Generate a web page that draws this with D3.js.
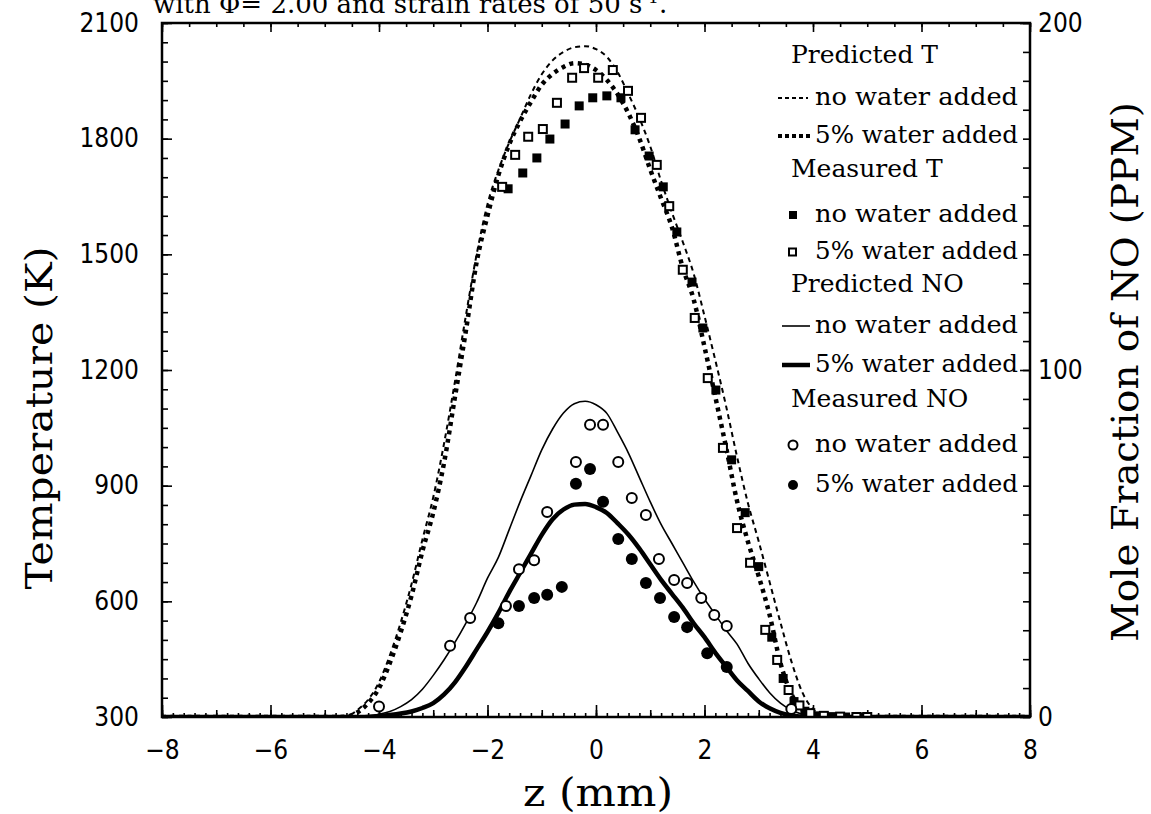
<!DOCTYPE html>
<meta charset="utf-8">
<style>
    body { margin: 0; background: #fff; }
    text { fill: #000; }
    .axis path { display: none; }
    .axis line { stroke: #000; stroke-width: 1.6; }
    .axis text {
        font-family: "Liberation Sans Narrow", "DejaVu Sans Condensed", "Liberation Sans", sans-serif;
        font-size: 26px;
    }
    .title, .label { font-family: "DejaVu Serif", serif; }
    .legend text { font-family: "DejaVu Serif", serif; font-size: 25px; }
</style>
<svg width="1151" height="814"></svg>
<script src="https://cdn.jsdelivr.net/npm/d3@7/dist/d3.min.js"></script>
<script>

    // predicted temperature profiles (K) along z (mm)
    var predTZ = [-8, -4.8, -4.6, -4.4, -4.2, -4.0, -3.8, -3.6, -3.4, -3.2, -3.0, -2.8, -2.6, -2.4, -2.2, -2.0, -1.8, -1.6, -1.4, -1.2,
        -1.0, -0.8, -0.6, -0.4, -0.2, 0, 0.2, 0.4, 0.6, 0.8, 1.0, 1.2, 1.4, 1.6, 1.8, 2.0, 2.2, 2.4, 2.6, 2.8,
        3.0, 3.2, 3.4, 3.6, 3.8, 4.0, 4.2, 4.4, 8];
    var predTNoWater = [300, 300, 302, 318, 345, 390, 460, 545, 645, 760, 870, 1010, 1170, 1340, 1500, 1630, 1718, 1790, 1852, 1915,
        1967, 2003, 2025, 2037, 2040, 2032, 2012, 1972, 1915, 1853, 1780, 1690, 1608, 1532, 1450, 1340, 1225, 1105, 975, 855,
        755, 650, 545, 445, 365, 320, 303, 300, 300];
    var predTWater = [300, 300, 301, 312, 336, 375, 440, 520, 615, 730, 830, 960, 1130, 1300, 1480, 1600, 1705, 1785, 1845, 1895,
        1940, 1968, 1986, 1996, 1992, 1978, 1952, 1915, 1865, 1800, 1720, 1645, 1570, 1465, 1383, 1260, 1130, 998, 860, 755,
        665, 565, 440, 360, 320, 303, 300, 300, 300];

    // measured temperature (K)
    var measTNoWaterZ = [-1.62, -1.35, -1.09, -0.85, -0.57, -0.31, -0.06, 0.2, 0.46, 0.72, 0.98, 1.24, 1.49, 1.77, 1.97, 2.21, 2.5, 2.75,
        3.0, 3.24, 3.45, 3.65, 3.85, 4.05, 4.35, 4.6, 4.9];
    var measTNoWater = [1670, 1711, 1750, 1799, 1838, 1885, 1906, 1911, 1906, 1823, 1755, 1675, 1558, 1428, 1309, 1148, 967, 830,
        690, 507, 400, 340, 315, 303, 301, 300, 300];
    var measTWaterZ = [-1.73, -1.49, -1.25, -0.98, -0.72, -0.44, -0.22, 0.04, 0.31, 0.59, 0.83, 1.12, 1.35, 1.6, 1.82, 2.06, 2.34, 2.6,
        2.84, 3.12, 3.34, 3.55, 3.75, 3.95, 4.2, 4.5, 4.8, 5.0];
    var measTWater = [1675, 1758, 1805, 1825, 1893, 1958, 1983, 1958, 1978, 1924, 1854, 1732, 1625, 1460, 1335, 1179, 998, 790,
        700, 526, 448, 370, 330, 310, 303, 301, 300, 300];

    // predicted NO (ppm)
    var predNOZ = [-8, -4.4, -4.2, -4.0, -3.8, -3.6, -3.4, -3.2, -3.0, -2.8, -2.6, -2.4, -2.2, -2.0, -1.8, -1.6, -1.4, -1.2, -1.0, -0.8,
        -0.6, -0.4, -0.2, 0, 0.2, 0.4, 0.6, 0.8, 1.0, 1.2, 1.4, 1.6, 1.8, 2.0, 2.2, 2.4, 2.6, 2.8, 3.0, 3.2,
        3.4, 3.6, 3.8, 4.0, 4.2, 8];
    var predNONoWater = [0, 0, 0.3, 0.8, 1.6, 3, 5, 8, 12, 16.5, 21.5, 27, 33, 40, 46, 54, 62, 69.5, 77, 83,
        87.6, 90.3, 91, 90, 87.5, 82, 76, 69, 62, 55.5, 50, 44.5, 39, 34, 29.5, 25, 21, 15.5, 11, 7,
        4, 2, 0.8, 0.2, 0, 0];
    var predNOWater = [0, 0, 0.1, 0.3, 0.6, 1, 1.6, 2.6, 4, 6.5, 10, 14.5, 19.5, 24.5, 30, 36, 41.5, 47, 52.5, 57,
        59.8, 61.2, 61.4, 60.5, 58.8, 55.8, 52.5, 48.5, 44, 39.5, 35.5, 31.5, 27, 23, 18.5, 14.5, 10.5, 7.5, 4.5, 2.5,
        1.2, 0.5, 0.1, 0, 0, 0];

    // measured NO (ppm)
    var measNONoWaterZ = [-4.0, -2.69, -2.32, -1.66, -1.42, -1.14, -0.9, -0.37, -0.11, 0.13, 0.41, 0.66, 0.92, 1.16, 1.44, 1.68,
        1.94, 2.18, 2.41, 3.6];
    var measNONoWater = [3, 20.5, 28.5, 32, 42.6, 45.2, 59.1, 73.5, 84.2, 84.2, 73.5, 63.1, 58.2, 45.5, 39.5, 38.6,
        34.3, 29.4, 26.2, 2.3];
    var measNOWaterZ = [-1.8, -1.42, -1.14, -0.9, -0.63, -0.37, -0.11, 0.13, 0.41, 0.66, 0.92, 1.18, 1.44, 1.68, 2.05, 2.41];
    var measNOWater = [27, 32, 34.3, 35.2, 37.5, 67.2, 71.5, 62, 51.3, 45.5, 38.6, 34.3, 28.8, 25.9, 18.4, 14.4];

    var xTicks = [-8, -6, -4, -2, 0, 2, 4, 6, 8];
    var tTicks = [300, 600, 900, 1200, 1500, 1800, 2100];
    var noTicks = [0, 100, 200];

    var legendRows = [
        {label: "Predicted T", kind: "header"},
        {label: "no water added", kind: "dash"},
        {label: "5% water added", kind: "dots"},
        {label: "Measured T", kind: "header"},
        {label: "no water added", kind: "fsquare"},
        {label: "5% water added", kind: "osquare"},
        {label: "Predicted NO", kind: "header"},
        {label: "no water added", kind: "thin"},
        {label: "5% water added", kind: "thick"},
        {label: "Measured NO", kind: "header"},
        {label: "no water added", kind: "ocircle"},
        {label: "5% water added", kind: "fcircle"}
    ];
    var legendBaselines = [63, 105, 143, 177, 222, 259, 292, 333, 372, 407, 452, 492];

    var svg = d3.select("svg"),
        plotL = 162, plotR = 1030, plotT = 23, plotB = 717;

    svg.append("rect").attr("width", 1151).attr("height", 814).attr("fill", "#fff");

    var x = d3.scaleLinear().domain([-8, 8]).range([plotL, plotR]);
    var yT = d3.scaleLinear().domain([300, 2100]).range([plotB, plotT]);
    var yNO = d3.scaleLinear().domain([0, 200]).range([plotB, plotT]);

    function zip(zs, vs) { return zs.map(function(z, i) { return {z: z, v: vs[i]}; }); }

    // minor ticks
    svg.append("g").attr("class", "axis").attr("transform", "translate(" + plotL + ",0)")
        .call(d3.axisLeft(yT).tickValues(d3.range(300, 2101, 50)).tickSize(-6).tickFormat(""));
    svg.append("g").attr("class", "axis").attr("transform", "translate(" + plotR + ",0)")
        .call(d3.axisRight(yNO).tickValues(d3.range(0, 25).map(function(i) { return i * 200 / 24; })).tickSize(-7).tickFormat(""));
    svg.append("g").attr("class", "axis").attr("transform", "translate(0," + plotB + ")")
        .call(d3.axisBottom(x).tickValues(d3.range(-40, 41).map(function(i) { return i / 5; })).tickSize(-4).tickFormat(""));
    svg.append("g").attr("class", "axis").attr("transform", "translate(0," + plotB + ")")
        .call(d3.axisBottom(x).tickValues(d3.range(-8, 9)).tickSize(-7).tickFormat(""));
    svg.append("g").attr("class", "axis").attr("transform", "translate(0," + plotT + ")")
        .call(d3.axisTop(x).tickValues(d3.range(-16, 17).map(function(i) { return i / 2; })).tickSize(-4).tickFormat(""));

    // major ticks + labels
    svg.append("g").attr("class", "axis").attr("transform", "translate(" + plotL + ",0)")
        .call(d3.axisLeft(yT).tickValues(tTicks).tickSize(-10).tickPadding(23).tickFormat(d3.format("d")));
    svg.append("g").attr("class", "axis").attr("transform", "translate(" + plotR + ",0)")
        .call(d3.axisRight(yNO).tickValues(noTicks).tickSize(-10).tickPadding(8).tickFormat(d3.format("d")));
    svg.append("g").attr("class", "axis").attr("transform", "translate(0," + plotB + ")")
        .call(d3.axisBottom(x).tickValues(xTicks).tickSize(-12).tickPadding(24)
            .tickFormat(function(d) { return d < 0 ? "\u2212" + (-d) : d; }));
    svg.append("g").attr("class", "axis").attr("transform", "translate(0," + plotT + ")")
        .call(d3.axisTop(x).tickValues(xTicks).tickSize(-9).tickFormat(""));

    svg.append("defs").append("clipPath").attr("id", "plot")
        .append("rect").attr("x", plotL).attr("y", plotT).attr("width", plotR - plotL).attr("height", plotB - plotT);

    var plot = svg.append("g").attr("clip-path", "url(#plot)");

    var lineT = d3.line().x(function(d) { return x(d.z); }).y(function(d) { return yT(d.v); }).curve(d3.curveMonotoneX);
    var lineNO = d3.line().x(function(d) { return x(d.z); }).y(function(d) { return yNO(d.v); }).curve(d3.curveMonotoneX);

    plot.append("path").datum(zip(predTZ, predTNoWater)).attr("d", lineT)
        .attr("fill", "none").attr("stroke", "#000").attr("stroke-width", 2).attr("stroke-dasharray", "5,4");
    plot.append("path").datum(zip(predTZ, predTWater)).attr("d", lineT)
        .attr("fill", "none").attr("stroke", "#000").attr("stroke-width", 4.5).attr("stroke-dasharray", "4,4.5");
    plot.append("path").datum(zip(predNOZ, predNONoWater)).attr("d", lineNO)
        .attr("fill", "none").attr("stroke", "#000").attr("stroke-width", 1.6);
    plot.append("path").datum(zip(predNOZ, predNOWater)).attr("d", lineNO)
        .attr("fill", "none").attr("stroke", "#000").attr("stroke-width", 4.5);

    plot.selectAll(".fsq").data(zip(measTNoWaterZ, measTNoWater)).enter().append("rect")
        .attr("x", function(d) { return x(d.z) - 4.5; }).attr("y", function(d) { return yT(d.v) - 4.5; })
        .attr("width", 9).attr("height", 9).attr("fill", "#000");
    plot.selectAll(".osq").data(zip(measTWaterZ, measTWater)).enter().append("rect")
        .attr("x", function(d) { return x(d.z) - 4; }).attr("y", function(d) { return yT(d.v) - 4; })
        .attr("width", 8).attr("height", 8).attr("fill", "#fff").attr("stroke", "#000").attr("stroke-width", 2);
    plot.selectAll(".oc").data(zip(measNONoWaterZ, measNONoWater)).enter().append("circle")
        .attr("cx", function(d) { return x(d.z); }).attr("cy", function(d) { return yNO(d.v); })
        .attr("r", 5).attr("fill", "#fff").attr("stroke", "#000").attr("stroke-width", 2);
    plot.selectAll(".fc").data(zip(measNOWaterZ, measNOWater)).enter().append("circle")
        .attr("cx", function(d) { return x(d.z); }).attr("cy", function(d) { return yNO(d.v); })
        .attr("r", 6).attr("fill", "#000");

    // frame
    svg.append("rect").attr("x", plotL).attr("y", plotT).attr("width", plotR - plotL).attr("height", plotB - plotT)
        .attr("fill", "none").attr("stroke", "#000").attr("stroke-width", 2.5);

    // legend
    var legend = svg.append("g").attr("class", "legend");
    legendRows.forEach(function(r, i) {
        var by = legendBaselines[i], sy = by - 7;
        var t = legend.append("text").attr("x", r.kind === "header" ? 791 : 815).attr("y", by).text(r.label);
        if (r.kind !== "header") t.attr("textLength", 203).attr("lengthAdjust", "spacingAndGlyphs");
        if (r.kind === "dash")
            legend.append("line").attr("x1", 778).attr("x2", 808).attr("y1", sy).attr("y2", sy)
                .attr("stroke", "#000").attr("stroke-width", 2).attr("stroke-dasharray", "4,3");
        if (r.kind === "dots")
            legend.append("line").attr("x1", 778).attr("x2", 810).attr("y1", sy).attr("y2", sy)
                .attr("stroke", "#000").attr("stroke-width", 4).attr("stroke-dasharray", "4,3");
        if (r.kind === "thin")
            legend.append("line").attr("x1", 782).attr("x2", 810).attr("y1", sy).attr("y2", sy)
                .attr("stroke", "#000").attr("stroke-width", 1.6);
        if (r.kind === "thick")
            legend.append("line").attr("x1", 782).attr("x2", 810).attr("y1", sy).attr("y2", sy)
                .attr("stroke", "#000").attr("stroke-width", 4.5);
        if (r.kind === "fsquare")
            legend.append("rect").attr("x", 789).attr("y", sy - 4).attr("width", 8).attr("height", 8).attr("fill", "#000");
        if (r.kind === "osquare")
            legend.append("rect").attr("x", 789).attr("y", sy - 3.5).attr("width", 7).attr("height", 7)
                .attr("fill", "#fff").attr("stroke", "#000").attr("stroke-width", 2);
        if (r.kind === "ocircle")
            legend.append("circle").attr("cx", 793).attr("cy", sy).attr("r", 4.5)
                .attr("fill", "#fff").attr("stroke", "#000").attr("stroke-width", 2);
        if (r.kind === "fcircle")
            legend.append("circle").attr("cx", 793).attr("cy", sy).attr("r", 5).attr("fill", "#000");
    });

    // titles
    var title = svg.append("text").attr("class", "title").attr("x", 153).attr("y", 13).attr("font-size", 26);
    title.append("tspan").text("with \u03a6= 2.00 and strain rates of 50 s");
    title.append("tspan").attr("dy", -10).attr("font-size", 17).text("-1");
    title.append("tspan").attr("dy", 10).text(".");

    svg.append("text").attr("class", "label").attr("font-size", 38).attr("text-anchor", "middle")
        .attr("textLength", 343).attr("lengthAdjust", "spacingAndGlyphs")
        .attr("transform", "translate(52,418)rotate(-90)").text("Temperature (K)");
    svg.append("text").attr("class", "label").attr("font-size", 40).attr("text-anchor", "middle")
        .attr("textLength", 150).attr("lengthAdjust", "spacingAndGlyphs")
        .attr("x", 598).attr("y", 806).text("z (mm)");
    svg.append("text").attr("class", "label").attr("font-size", 37).attr("text-anchor", "middle")
        .attr("textLength", 540).attr("lengthAdjust", "spacingAndGlyphs")
        .attr("transform", "translate(1138,372)rotate(-90)").text("Mole Fraction of NO (PPM)");

</script>
